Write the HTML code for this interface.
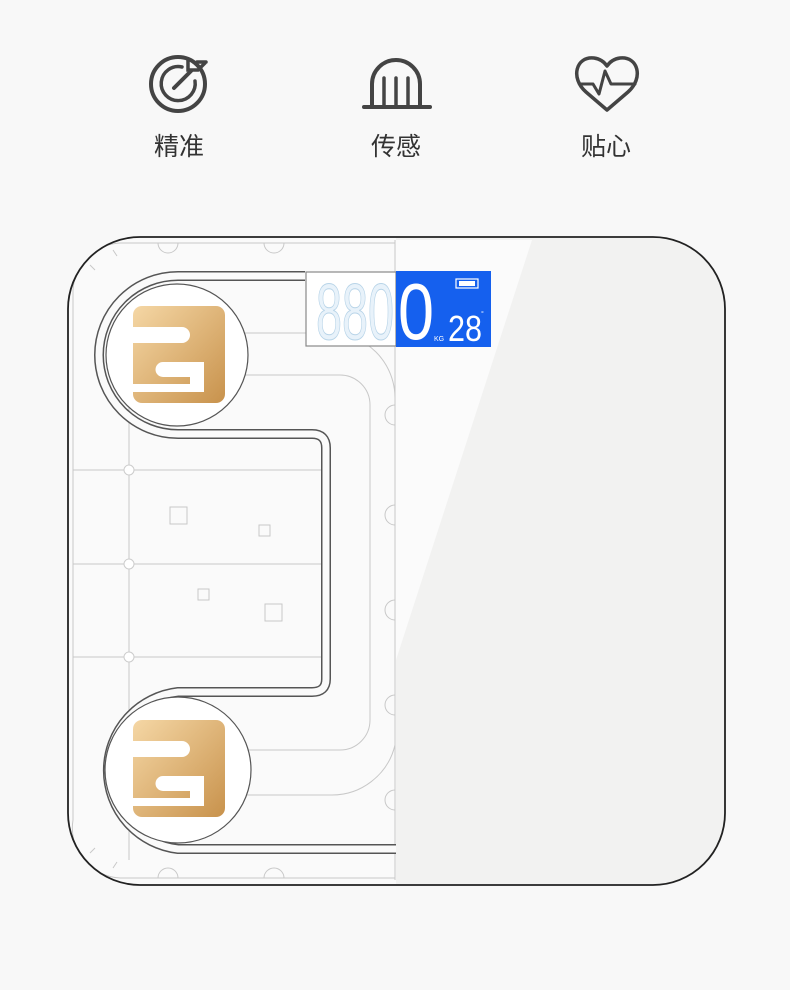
<!DOCTYPE html>
<html><head><meta charset="utf-8"><style>
html,body{margin:0;padding:0;background:#f8f8f8;width:790px;height:990px;overflow:hidden}
</style></head><body>
<svg width="790" height="990" viewBox="0 0 790 990" xmlns="http://www.w3.org/2000/svg">
<defs>
<linearGradient id="g" x1="0" y1="0" x2="1" y2="1">
<stop offset="0" stop-color="#f5d7a5"/><stop offset="1" stop-color="#c8924c"/></linearGradient>
<clipPath id="sc"><rect x="68" y="237" width="657" height="648" rx="72"/></clipPath>
<g id="logo">
<rect x="0" y="0" width="92" height="97" rx="9" fill="url(#g)"/>
<path d="M0 21 L49 21 A8 8 0 0 1 49 37 L0 37 Z" fill="#fff"/>
<path d="M30 56 L71 56 L71 86 L0 86 L0 78 L57 78 L57 71 L30 71 A7.5 7.5 0 0 1 30 56 Z" fill="#fff"/>
</g>
</defs>
<g fill="none" stroke="#444" stroke-width="4" stroke-linecap="round">
<circle cx="178" cy="84" r="27"/>
<path d="M191 71 L174 88"/>
<path d="M182 67 A17 17 0 1 0 195 81" stroke-width="3.5"/>
<path d="M188 60 L188 70 L198 70 L205 63 M197 62 L206 62" stroke-width="3.5"/>
<path d="M372 105 L372 84 A24 24 0 0 1 420 84 L420 105"/>
<path d="M364 107 L430 107"/>
<path d="M384 78 L384 105 M396 78 L396 105 M408 78 L408 105" stroke-width="3.5"/>
<path d="M607 110 L586 92 C570 78 576 56 594 58 C601 59 605 63 607 66 C609 63 613 59 620 58 C638 56 644 78 628 92 Z" stroke-linejoin="round" stroke-width="3.5"/>
<path d="M580 84 L593 84 L599 94 L605 71 L611 84 L635 84" stroke-width="3" stroke-linejoin="round"/>
</g>
<g font-family="'Liberation Sans','Noto Sans CJK SC',sans-serif" font-size="25" fill="#333" text-anchor="middle">
<text x="179" y="155">精准</text><text x="396" y="155">传感</text><text x="606" y="155">贴心</text>
</g>
<rect x="68" y="237" width="657" height="648" rx="72" fill="#fafafa"/>
<g clip-path="url(#sc)">
<rect x="396" y="230" width="340" height="660" fill="#f2f2f1"/>
<path d="M396 240 L532 240 L396 660 Z" fill="#fbfbfb"/>
<g stroke="#c8c8c8" fill="none" stroke-width="1">
<path d="M395 243 L120 243 A50 50 0 0 0 73 290 L73 820 A50 50 0 0 0 120 878 L395 878"/>
<path d="M129 310 L129 860"/>
<path d="M73 470 L322 470 M73 564 L322 564 M73 657 L322 657"/>
<path d="M240 375 L340 375 A30 30 0 0 1 370 405 L370 720 A30 30 0 0 1 340 750 L240 750"/>
<path d="M240 333 L330 333 A65 65 0 0 1 395 398 M395 745 A65 65 0 0 1 330 795 L240 795"/>
<path d="M395 240 L395 880"/>
<rect x="170" y="507" width="17" height="17"/><rect x="259" y="525" width="11" height="11"/>
<rect x="198" y="589" width="11" height="11"/><rect x="265" y="604" width="17" height="17"/>
<path d="M158 243 A10 10 0 0 0 178 243 M264 243 A10 10 0 0 0 284 243 M158 878 A10 10 0 0 1 178 878 M264 878 A10 10 0 0 1 284 878"/>
<path d="M395 405 A10 10 0 0 0 395 425 M395 505 A10 10 0 0 0 395 525 M395 600 A10 10 0 0 0 395 620 M395 695 A10 10 0 0 0 395 715 M395 790 A10 10 0 0 0 395 810"/>
<path d="M90 265 L95 270 M113 250 L117 256 M90 853 L95 848 M113 868 L117 862"/>
</g>
<g fill="#fff" stroke="#ccc"><circle cx="129" cy="470" r="5"/><circle cx="129" cy="564" r="5"/><circle cx="129" cy="657" r="5"/></g>
<path d="M305 276 L178 276 A79 79 0 0 0 178 434 L312 434 Q326 434 326 448 L326 679 Q326 692 312 692 L178 692 A79 79 0 0 0 178 849 L396 849" fill="none" stroke="#555" stroke-width="10"/>
<path d="M305 276 L178 276 A79 79 0 0 0 178 434 L312 434 Q326 434 326 448 L326 679 Q326 692 312 692 L178 692 A79 79 0 0 0 178 849 L396 849" fill="none" stroke="#fafafa" stroke-width="7"/>
<circle cx="177" cy="355" r="71" fill="#fff" stroke="#555" stroke-width="1.2"/>
<circle cx="178" cy="770" r="73" fill="#fff" stroke="#555" stroke-width="1.2"/>
<use href="#logo" x="133" y="306"/>
<use href="#logo" x="133" y="720"/>
<rect x="306" y="272" width="90" height="74" fill="#fff" stroke="#888" stroke-width="1.2"/>
<rect x="396" y="271" width="95" height="76" fill="#1560ee"/>
<g font-family="'Liberation Sans',sans-serif">
<text x="316" y="339" font-size="80" fill="#e8f2fa" stroke="#b8d4e8" stroke-width="1" textLength="78" lengthAdjust="spacingAndGlyphs">880</text>
<text x="398" y="339" font-size="80" fill="#fff" textLength="36" lengthAdjust="spacingAndGlyphs">0</text>
<text x="434" y="341" font-size="7" fill="#fff">KG</text>
<text x="448" y="341" font-size="36" fill="#fff" textLength="34" lengthAdjust="spacingAndGlyphs">28</text>
<text x="481" y="316" font-size="7" fill="#fff">°</text>
</g>
<rect x="456" y="279" width="22" height="9" fill="none" stroke="#fff" stroke-width="1.2"/>
<rect x="459" y="281" width="16" height="5" fill="#fff"/>
</g>
<rect x="68" y="237" width="657" height="648" rx="72" fill="none" stroke="#222" stroke-width="1.8"/>
</svg>
</body></html>
